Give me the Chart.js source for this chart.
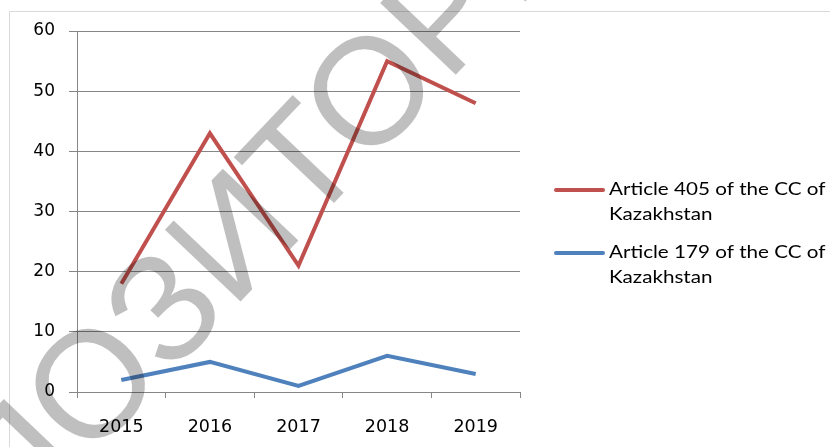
<!DOCTYPE html>
<html>
<head>
<meta charset="utf-8">
<script src="https://cdn.jsdelivr.net/npm/chart.js@4/dist/chart.umd.min.js"></script>
<style>
  html, body { margin: 0; padding: 0; background: #fff; }
  #wrap { position: relative; width: 830px; height: 447px; }
</style>
</head>
<body>
<div id="wrap"><canvas id="lineChart" width="830" height="447"></canvas></div>
<script>
const years = ["2015", "2016", "2017", "2018", "2019"];
const article405 = [18, 43, 21, 55, 48];
const article179 = [2, 5, 1, 6, 3];
const seriesNames = ["Article 405 of the CC of Kazakhstan", "Article 179 of the CC of Kazakhstan"];
const seriesColors = ["#c0504d", "#4f81bd"];
const yMin = 0, yMax = 60, yStep = 10;
const watermark = "РЕПОЗИТОРИЙ";

// frame + legend + watermark drawn by hand
const extras = {
    id: "extras",
    beforeDraw(chart) {
        const ctx = chart.ctx;
        ctx.save();
        ctx.strokeStyle = "#d9d9d9";
        ctx.lineWidth = 1;
        ctx.beginPath();
        ctx.moveTo(9.5, 447);
        ctx.lineTo(9.5, 11.5);
        ctx.lineTo(830, 11.5);
        ctx.stroke();
        ctx.restore();
    },
    afterDraw(chart) {
        const ctx = chart.ctx;
        ctx.save();
        //legend
        const rows = [[190, 215], [253, 278]];
        chart.data.datasets.forEach((ds, i) => {
            ctx.strokeStyle = ds.borderColor;
            ctx.lineWidth = 4;
            ctx.lineCap = "round";
            ctx.beginPath();
            ctx.moveTo(556, rows[i][0]);
            ctx.lineTo(603, rows[i][0]);
            ctx.stroke();
            ctx.fillStyle = "#000";
            ctx.font = "16.5px Lato";
            ctx.textBaseline = "middle";
            ctx.textAlign = "left";
            const words = ds.label.split(" ");
            let lines = [], cur = "";
            words.forEach(w => {
                const t = cur ? cur + " " + w : w;
                if (ctx.measureText(t).width * 1.25 > 225 && cur) { lines.push(cur); cur = w; }
                else cur = t;
            });
            lines.push(cur);
            lines.forEach((l, j) => {
                ctx.save();
                ctx.translate(609, rows[i][j]);
                ctx.scale(1.25, 1);
                ctx.fillText(l, 0, 0);
                ctx.restore();
            });
        });
        //watermark: place so the two "О" letters sit where they are in the picture
        ctx.textBaseline = "alphabetic";
        ctx.textAlign = "left";
        ctx.font = "100px 'Liberation Sans'";
        const halfO = ctx.measureText("О").width / 2;
        const a = ctx.measureText("РЕП").width + halfO;
        const b = ctx.measureText("РЕПОЗИТ").width + halfO;
        const p1 = [90, 383], p2 = [373, 85];
        const dist = Math.hypot(p2[0] - p1[0], p2[1] - p1[1]);
        const size = 100 * dist / (b - a);
        ctx.font = size + "px 'Liberation Sans'";
        const m = ctx.measureText("О");
        const yOff = (m.actualBoundingBoxAscent - m.actualBoundingBoxDescent) / 2;
        ctx.fillStyle = "rgba(0,0,0,0.25)";
        ctx.translate(p1[0], p1[1]);
        ctx.rotate(Math.atan2(p2[1] - p1[1], p2[0] - p1[0]));
        ctx.fillText(watermark, -a * size / 100, yOff);
        ctx.restore();
    }
};

const canvasElement = document.getElementById("lineChart");
new Chart(canvasElement, {
    type: "line",
    data: {
        labels: years,
        datasets: [
            {label: seriesNames[0], data: article405, borderColor: seriesColors[0], borderWidth: 4, pointRadius: 0, tension: 0},
            {label: seriesNames[1], data: article179, borderColor: seriesColors[1], borderWidth: 4, pointRadius: 0, tension: 0}
        ]
    },
    options: {
        responsive: false,
        animation: false,
        layout: {padding: {top: 31, right: 310, left: 0, bottom: 0}},
        plugins: {legend: {display: false}, tooltip: {enabled: false}},
        scales: {
            x: {
                offset: true,
                grid: {display: true, drawOnChartArea: false, drawTicks: true, tickLength: 6, color: "#868686", offset: true},
                border: {color: "#868686"},
                ticks: {color: "#000", font: {family: "DejaVu Sans", size: 17.5}, padding: 19, maxRotation: 0},
                afterFit: s => { s.height = 55; }
            },
            y: {
                min: yMin, max: yMax,
                ticks: {stepSize: yStep, color: "#000", font: {family: "DejaVu Sans", size: 17}, padding: 14},
                grid: {color: "#868686", tickLength: 8},
                border: {color: "#868686"},
                afterFit: s => { s.width = 77; }
            }
        }
    },
    plugins: [extras]
});
</script>
</body>
</html>
